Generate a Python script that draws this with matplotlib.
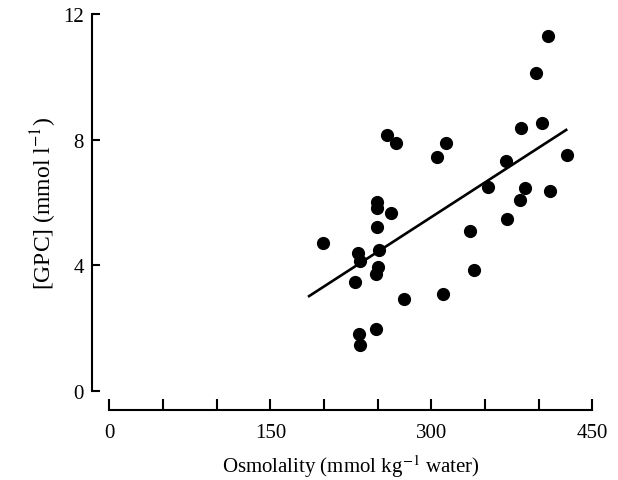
import matplotlib
matplotlib.use("Agg")
import matplotlib.pyplot as plt
from matplotlib.ticker import MultipleLocator

# values
osmolality = [409.0, 397.3, 403.4, 383.6, 258.5, 267.1, 313.7, 305.0, 426.7,
              369.3, 353.1, 387.3, 410.6, 382.6, 249.7, 249.7, 262.2, 249.1,
              370.8, 336.1, 198.8, 232.0, 251.6, 233.6, 339.8, 250.6, 248.5,
              228.9, 311.2, 274.9, 248.5, 232.9, 233.6]
gpc = [11.29, 10.12, 8.52, 8.37, 8.15, 7.88, 7.89, 7.46, 7.52,
       7.32, 6.48, 6.45, 6.37, 6.07, 6.00, 5.81, 5.66, 5.20,
       5.47, 5.10, 4.69, 4.39, 4.48, 4.14, 3.85, 3.93, 3.72,
       3.45, 3.08, 2.92, 1.96, 1.81, 1.46]

# regression line end points
fit_x = [185.1, 426.7]
fit_y = [2.99, 8.33]

x_ticks = [0, 150, 300, 450]
y_ticks = [0, 4, 8, 12]

plt.rcParams['font.family'] = ['Liberation Serif', 'DejaVu Serif']
plt.rcParams['mathtext.fontset'] = 'stix'

fig = plt.figure(figsize=(6.18, 4.81), dpi=100)
ax = fig.add_axes([109.3 / 618, (481 - 391.7) / 481,
                   (592.3 - 109.3) / 618, (391.7 - 15) / 481])

ax.scatter(osmolality, gpc, s=72, color='black', zorder=3, clip_on=False)
ax.plot(fit_x, fit_y, color='black', lw=1.9, solid_capstyle='butt')

ax.set_xlim(0, 450)
ax.set_ylim(0, 12)

for side in ['top', 'right']:
    ax.spines[side].set_visible(False)
# offset axes (points): ~18 px left, ~19 px down
ax.spines['left'].set_position(('outward', 12.7))
ax.spines['bottom'].set_position(('outward', 13.9))
ax.spines['left'].set_linewidth(1.5)
ax.spines['bottom'].set_linewidth(1.5)

ax.set_xticks(x_ticks)
ax.xaxis.set_minor_locator(MultipleLocator(50))
ax.set_yticks(y_ticks)
ax.tick_params(axis='x', which='both', direction='in', length=8, width=1.5,
               pad=9.5, labelsize=15)
ax.tick_params(axis='y', direction='in', length=5.8, width=1.5, pad=5.5,
               labelsize=15)

ax.set_xlabel('Osmolality (mmol kg$^{-1}$ water)', fontsize=15, labelpad=7)
ax.set_ylabel('[GPC] (mmol l$^{-1}$)', fontsize=17, labelpad=3)

fig.savefig('out.png', dpi=100)
